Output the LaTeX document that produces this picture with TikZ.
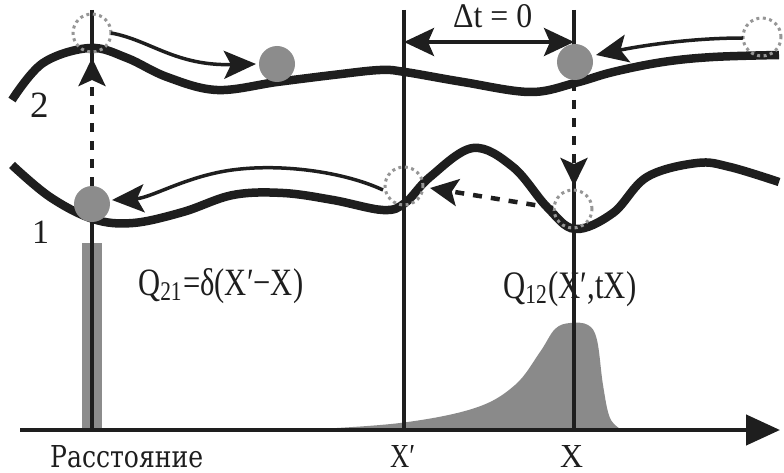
\documentclass[tikz,border=0pt]{standalone}
\usepackage{fontspec}
\setmainfont{Liberation Serif}
\newfontfamily\typefont{DejaVu Serif}
\usetikzlibrary{arrows.meta}
\definecolor{ballgray}{RGB}{140,140,140}
\definecolor{distgray}{RGB}{138,138,138}
\definecolor{ghostgray}{RGB}{150,150,150}
\definecolor{inkc}{RGB}{30,30,30}
\tikzset{
  wave/.style={line width=8.5pt, draw=inkc},
  vline/.style={line width=3.5pt, draw=inkc},
  ball/.style={circle, fill=ballgray, minimum size=36pt, inner sep=0pt},
  ghost/.style={circle, draw=ghostgray, dash pattern=on 3pt off 3.5pt, line width=3pt, minimum size=38pt, inner sep=0pt},
  thinarrow/.style={line width=3.5pt, draw=inkc, -{Stealth[length=32pt,width=28pt,inset=7pt]}},
  dasharrow/.style={line width=4.5pt, draw=inkc, dash pattern=on 9pt off 9pt, -{Stealth[length=28pt,width=27pt,inset=6pt]}},
  lbl/.style={inner sep=0pt, anchor=base west, text=inkc},
}
\begin{document}
\begin{tikzpicture}[x=1pt,y=-1pt]
\useasboundingbox (0,0) rectangle (784,473);
% distributions
\fill[distgray] (300,430) plot[smooth, tension=0.6] coordinates {(300,430) (400,423) (475,408) (515,385) (540,352) (555,329) (570,323) (588,325) (597,340) (603,385) (610,418) (622,430)} -- cycle;
\fill[ballgray] (82,243) rectangle (102,430);
% named coordinates
\coordinate (Ltop) at (92,10);
\coordinate (Lbot) at (92,430);
\coordinate (Ptop) at (404,10);
\coordinate (Pbot) at (404,430);
\coordinate (Xtop) at (574,10);
\coordinate (Xbot) at (574,430);
\coordinate (axL) at (20,430);
\coordinate (axR) at (780,430);
% vertical lines
\draw[vline] (Ltop) -- (92,62);
\draw[vline] (92,215) -- (Lbot);
\draw[vline] (Ptop) -- (Pbot);
\draw[vline] (Xtop) -- (574,48);
\draw[vline] (574,180) -- (Xbot);
% axis
\draw[line width=4.5pt, draw=inkc, -{Triangle[length=34pt,width=30pt]}] (axL) -- (axR);
% waves
\draw[wave] plot[smooth, tension=0.6] coordinates {(12,100) (43,63) (90,48) (127,58) (167,77) (217,90) (277,82) (333,75) (380,70) (405,72) (463,82) (530,92) (575,83) (613,72) (663,62) (713,57) (779,55)};
\draw[wave] plot[smooth, tension=0.6] coordinates {(12,165) (50,197) (93,219) (133,223) (183,212) (233,195) (283,193) (333,200) (383,210) (405,203) (430,177) (473,148) (513,167) (547,207) (575,229) (613,213) (647,177) (697,163) (730,167) (779,182)};
% balls and ghosts
\node[ghost] (g1) at (92,33) {};
\node[ghost] (g2) at (762,37) {};
\node[ghost] (g3) at (404,186) {};
\node[ghost] (g4) at (573,209) {};
\node[ball] (b1) at (277,64) {};
\node[ball] (b2) at (575,62) {};
\node[ball] (b3) at (92,204) {};
% arrows
\coordinate (a1s) at (111,33);
\coordinate (a1e) at (256,64);
\draw[thinarrow] (a1s) .. controls (150,40) and (175,66) .. (a1e);
\coordinate (a2s) at (383,190);
\coordinate (a2m) at (220,172);
\coordinate (a2e) at (112,200);
\draw[thinarrow] (a2s) .. controls (340,170) and (270,162) .. (a2m) .. controls (180,180) and (150,198) .. (a2e);
\coordinate (a3s) at (743,38);
\coordinate (a3e) at (596,55);
\draw[thinarrow] (a3s) .. controls (690,38) and (640,46) .. (a3e);
\coordinate (d1s) at (92,186);
\coordinate (d1e) at (92,58);
\draw[dasharrow] (d1s) -- (d1e);
\coordinate (d2s) at (574,82);
\coordinate (d2e) at (574,186);
\draw[dasharrow] (d2s) -- (d2e);
\coordinate (d3s) at (553,208);
\coordinate (d3e) at (430,188);
\draw[dasharrow] (d3s) -- (d3e);
\draw[vline, {Stealth[length=30pt,width=28pt,inset=6pt]}-{Stealth[length=30pt,width=28pt,inset=6pt]}] (404,42) -- (574,42);
% labels
\node[lbl] (dt) at (453,28) {\resizebox{79pt}{23pt}{Δt = 0}};
\node[lbl, font=\fontsize{37}{44}\selectfont] (n2) at (30,118) {2};
\node[lbl, font=\fontsize{34}{40}\selectfont] (n1) at (32,243) {1};
\node[lbl] (q21) at (138,295) {\resizebox{165pt}{27pt}{Q\textsubscript{21}=δ(X′−X)}};
\node[lbl] (q12) at (503,298) {\resizebox{133pt}{27pt}{Q\textsubscript{12}(X′,tX)}};
\node[lbl] (ras) at (50,467) {\resizebox{153pt}{22pt}{\typefont Расстояние}};
\node[lbl] (xp) at (390,467) {\resizebox{25pt}{22pt}{X′}};
\node[lbl] (xx) at (560,467) {\resizebox{23pt}{22pt}{X}};
\end{tikzpicture}
\end{document}
